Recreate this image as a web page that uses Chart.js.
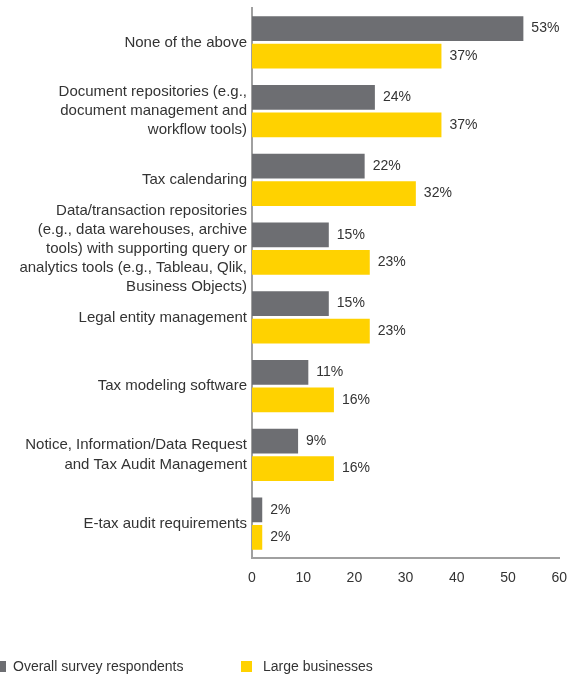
<!DOCTYPE html>
<html>
<head>
<meta charset="utf-8">
<script src="https://cdn.jsdelivr.net/npm/chart.js@4.4.1/dist/chart.umd.min.js"></script>
<style>
    html, body { margin: 0; padding: 0; background: #fff; }
    .wrap { position: relative; width: 579px; height: 678px; overflow: hidden; }
    #legend {
        position: absolute; left: -5px; top: 658px;
        font-family: "Liberation Sans", Arial, sans-serif; font-size: 14px; color: #333;
    }
    #legend .item { position: absolute; top: 0; white-space: nowrap; }
    #legend .box { display: inline-block; width: 11px; height: 11px; vertical-align: -1px; }
</style>
</head>
<body>
<div class="wrap">
    <canvas id="chart" width="579" height="678"></canvas>
    <div id="legend"></div>
</div>
<script>
// --- data ---
const categories = [
    ['None of the above'],
    ['Document repositories (e.g.,', 'document management and', 'workflow tools)'],
    ['Tax calendaring'],
    ['Data/transaction repositories', '(e.g., data warehouses, archive', 'tools) with supporting query or', 'analytics tools (e.g., Tableau, Qlik,', 'Business Objects)'],
    ['Legal entity management'],
    ['Tax modeling software'],
    ['Notice, Information/Data Request', 'and Tax Audit Management'],
    ['E-tax audit requirements']
];
const overallRespondents = [53, 24, 22, 15, 15, 11, 9, 2];
const largeBusinesses = [37, 37, 32, 23, 23, 16, 16, 2];
const xTicks = [0, 10, 20, 30, 40, 50, 60];

const GREY = '#6d6e72';
const YELLOW = '#ffd200';
const FONT = '"Liberation Sans", Arial, sans-serif';

// value labels to the right of each bar
const valueLabels = {
    id: 'valueLabels',
    afterDatasetsDraw(chart) {
        const ctx = chart.ctx;
        ctx.save();
        ctx.font = '14px ' + FONT;
        ctx.fillStyle = '#333';
        ctx.textBaseline = 'middle';
        ctx.textAlign = 'left';
        chart.data.datasets.forEach((ds, i) => {
            chart.getDatasetMeta(i).data.forEach((bar, j) => {
                ctx.fillText(ds.data[j] + '%', bar.x + 8, bar.y);
            });
        });
        ctx.restore();
    }
};

const chart = new Chart(document.getElementById('chart'), {
    type: 'bar',
    data: {
        labels: categories,
        datasets: [
            { label: 'Overall survey respondents', data: overallRespondents, backgroundColor: GREY },
            { label: 'Large businesses', data: largeBusinesses, backgroundColor: YELLOW }
        ]
    },
    options: {
        indexAxis: 'y',
        responsive: false,
        animation: false,
        categoryPercentage: 0.8,
        barPercentage: 0.9,
        layout: { padding: { top: 8, right: 16, bottom: 80, left: 0 } },
        plugins: { legend: { display: false }, tooltip: { enabled: false } },
        scales: {
            x: {
                min: 0,
                max: 60,
                afterBuildTicks: s => { s.ticks = xTicks.map(v => ({ value: v })); },
                afterFit: s => { s.height = 40; },
                grid: { display: false, drawTicks: false },
                border: { display: true, color: '#a0a0a0', width: 2 },
                ticks: { color: '#333', padding: 12, maxRotation: 0, font: { family: FONT, size: 14 } }
            },
            y: {
                grid: { display: false, drawTicks: false },
                border: { display: true, color: '#a0a0a0', width: 2 },
                afterFit: s => {
                    s.width = 252;
                    s.paddingTop = 0;
                    s.paddingBottom = 0;
                },
                ticks: { color: '#333', padding: 5, autoSkip: false, font: { family: FONT, size: 15, lineHeight: 1.27 } }
            }
        }
    },
    plugins: [valueLabels]
});

// legend built from the datasets
const legend = document.getElementById('legend');
const legendX = [0, 246];
const legendGap = [7, 11];
chart.data.datasets.forEach((ds, i) => {
    const item = document.createElement('div');
    item.className = 'item';
    item.style.left = legendX[i] + 'px';
    item.innerHTML = `<span class="box" style="background:${ds.backgroundColor};margin-right:${legendGap[i]}px"></span>${ds.label}`;
    legend.appendChild(item);
});
</script>
</body>
</html>
